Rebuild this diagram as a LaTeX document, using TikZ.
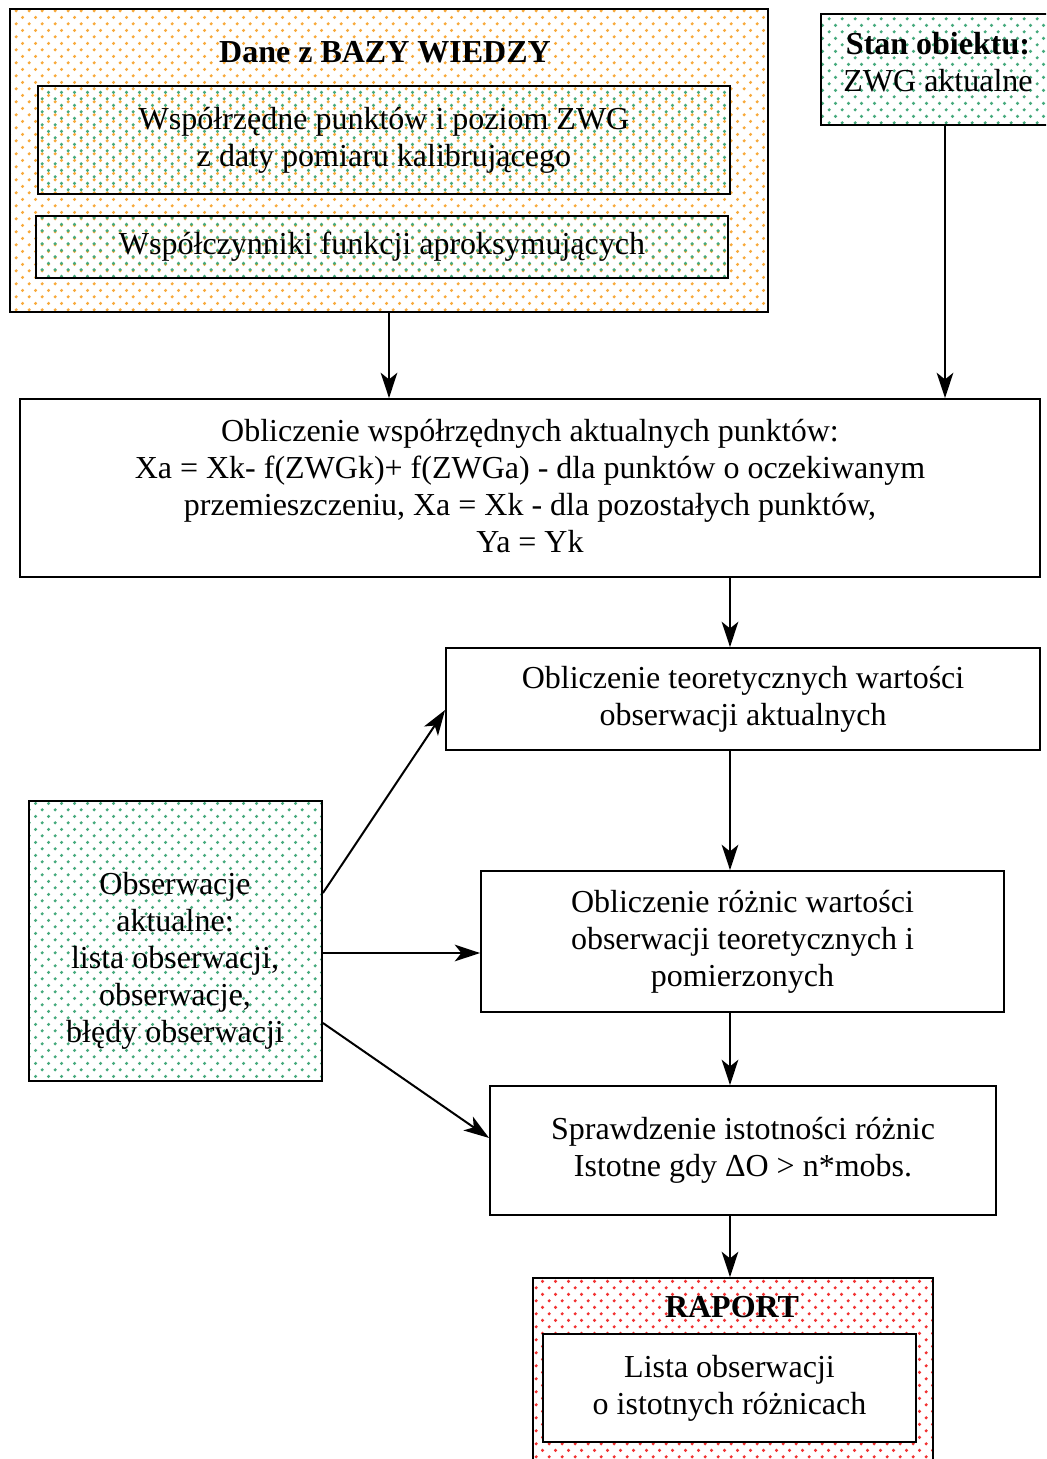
\documentclass[tikz,border=0pt]{standalone}
\usepackage{fontspec}
\setmainfont{Liberation Serif}
\usetikzlibrary{arrows.meta,patterns}

% staggered dot grid used as a light fill
\pgfdeclarepatternformonly{softdots}{\pgfqpoint{0pt}{0pt}}{\pgfqpoint{10pt}{10pt}}{\pgfqpoint{10pt}{10pt}}{%
  \pgfpathcircle{\pgfqpoint{2.5pt}{2.5pt}}{1.35pt}%
  \pgfpathcircle{\pgfqpoint{7.5pt}{7.5pt}}{1.35pt}%
  \pgfusepath{fill}}

\definecolor{dotorange}{RGB}{248,170,60}
\definecolor{dotgreen}{RGB}{70,170,125}
\definecolor{dotred}{RGB}{242,50,50}

\tikzset{
  txt/.style={font=\fontsize{24}{27.8}\selectfont, align=center, inner sep=0pt},
  box/.style={draw, line width=1.4pt, fill=white, inner sep=0pt, txt},
  orangebox/.style={box, pattern=softdots, pattern color=dotorange},
  greenbox/.style={box, pattern=softdots, pattern color=dotgreen},
  redbox/.style={box, pattern=softdots, pattern color=dotred},
  arr/.style={line width=1.5pt, -{Stealth[length=19pt,width=12.5pt,inset=5pt]}},
}

\begin{document}
\begin{tikzpicture}[x=0.75pt, y=-0.75pt]
  \clip (0,0) rectangle (1046,1459);
  \fill[white] (0,0) rectangle (1046,1459);

  % knowledge base block
  \node[orangebox, minimum width=568.5pt, minimum height=227.25pt] (base) at (389,160.5) {};
  \node[txt, font=\fontsize{24}{27.8}\selectfont\bfseries] (basetitle) at (385,52) {Dane z BAZY WIEDZY};
  \node[greenbox, minimum width=519pt, minimum height=81pt] (coords) at (384,140)
    {Współrzędne punktów i poziom ZWG\\z daty pomiaru kalibrującego};
  \node[greenbox, minimum width=519pt, minimum height=46.5pt] (coef) at (382,247)
    {Współczynniki funkcji aproksymujących};

  % object state
  \node[greenbox, minimum width=186pt, minimum height=83.25pt] (state) at (945,69.5) {};
  \node[txt] (statetext) at (938,62) {\textbf{Stan obiektu:}\\ZWG aktualne};

  % processing steps
  \node[box, minimum width=765pt, minimum height=133.5pt, text depth=3pt] (calc) at (530,488)
    {Obliczenie współrzędnych aktualnych punktów:\\
     Xa = Xk- f(ZWGk)+ f(ZWGa) - dla punktów o oczekiwanym\\
     przemieszczeniu, Xa = Xk - dla pozostałych punktów,\\
     Ya = Yk};
  \node[box, minimum width=445.5pt, minimum height=76.5pt] (theor) at (743,699)
    {Obliczenie teoretycznych wartości\\obserwacji aktualnych};
  \node[box, minimum width=392.25pt, minimum height=105.75pt] (diff) at (742.5,941.5)
    {Obliczenie różnic wartości\\obserwacji teoretycznych i\\pomierzonych};
  \node[box, minimum width=379.5pt, minimum height=96.75pt] (check) at (743,1150.5)
    {Sprawdzenie istotności różnic\\Istotne gdy ΔO > n*mobs.};

  % observations
  \node[greenbox, minimum width=219.75pt, minimum height=210pt] (obs) at (175.5,941) {};
  \node[txt] (obstext) at (175,961)
    {Obserwacje\\aktualne:\\lista obserwacji,\\obserwacje,\\błędy obserwacji};

  % report
  \node[redbox, minimum width=300pt, minimum height=144pt] (report) at (733,1374) {};
  \node[txt, font=\fontsize{24}{27.8}\selectfont\bfseries] (reporttitle) at (732,1307) {RAPORT};
  \node[box, minimum width=279.75pt, minimum height=81pt] (list) at (729.5,1388)
    {Lista obserwacji\\o istotnych różnicach};

  % connectors
  \coordinate (spine) at (730,0);
  \draw[arr] (base.south) -- (base.south |- calc.north);
  \draw[arr] (state.south) -- (state.south |- calc.north);
  \draw[arr] (calc.south -| spine) -- (theor.north -| spine);
  \draw[arr] (theor.south -| spine) -- (diff.north -| spine);
  \draw[arr] (diff.south -| spine) -- (check.north -| spine);
  \draw[arr] (check.south -| spine) -- (report.north -| spine);

  \draw[arr] ([yshift=36pt]obs.east) -- ([yshift=-8.25pt]theor.west);
  \coordinate (obsmid) at ([yshift=-9pt]obs.east);
  \draw[arr] (obsmid) -- (obsmid -| diff.west);
  \draw[arr] ([yshift=-61.5pt]obs.east) -- ([yshift=9.4pt]check.west);
\end{tikzpicture}
\end{document}
